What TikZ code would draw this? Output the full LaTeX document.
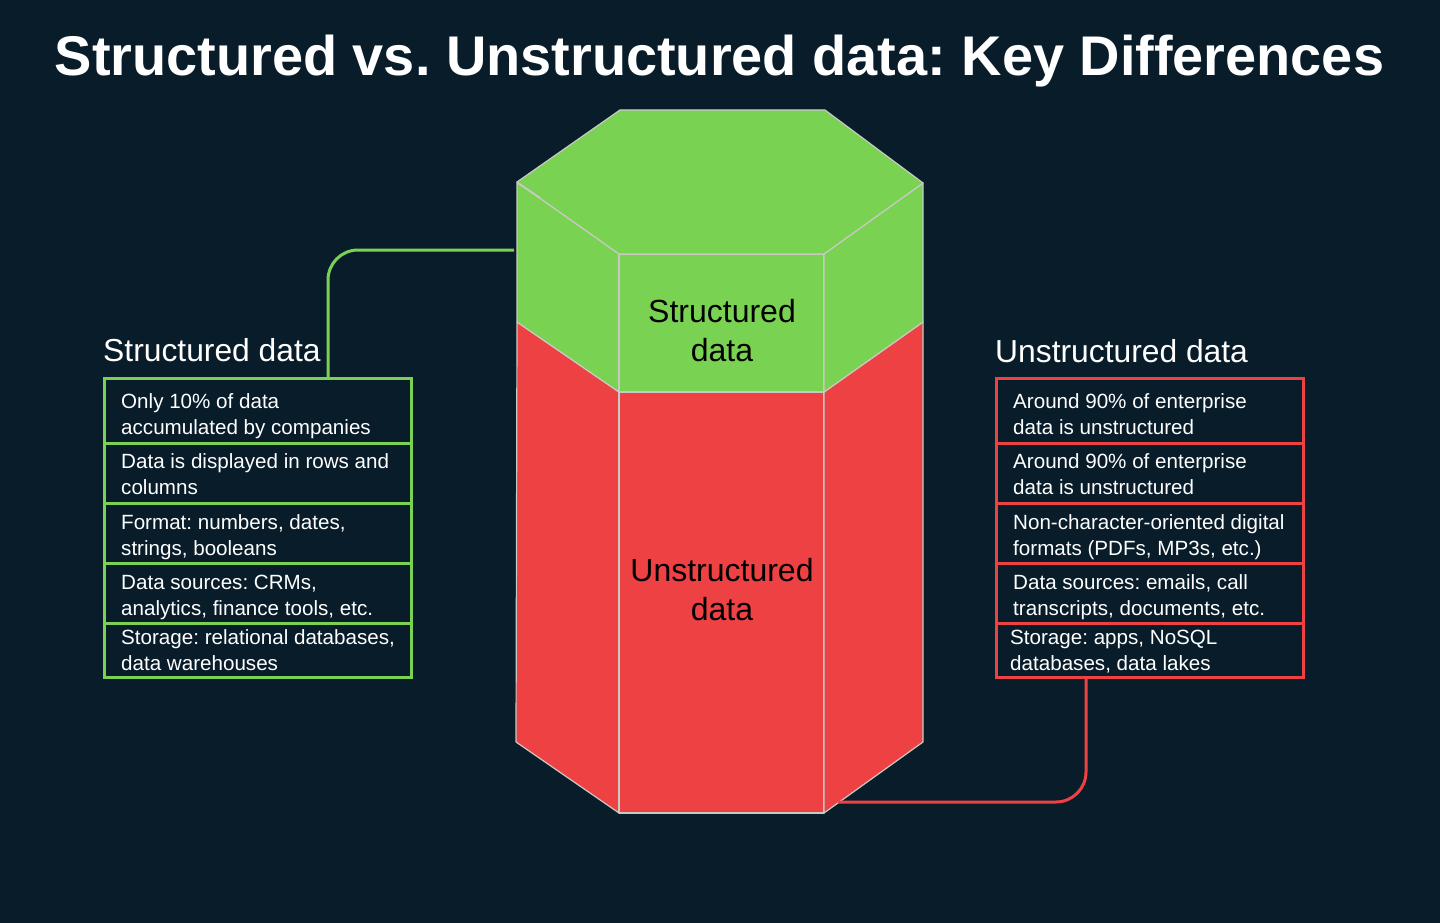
\documentclass[tikz,border=0pt]{standalone}
\usepackage{fontspec}
\setmainfont{Liberation Sans}
\definecolor{bgdark}{HTML}{081C29}
\definecolor{hexgreen}{HTML}{7AD252}
\definecolor{hexred}{HTML}{EE4144}
\definecolor{hexline}{HTML}{C9C9C4}
\tikzset{
  facered/.style={fill=hexred,draw=hexline,line width=1.2pt,line join=round},
  facegreen/.style={fill=hexgreen,draw=hexline,line width=1.2pt,line join=round},
  rowgreen/.style={draw=hexgreen,line width=3pt,minimum width=307pt,inner sep=0pt,outer sep=0pt,anchor=north west},
  rowred/.style={draw=hexred,line width=3pt,minimum width=307pt,inner sep=0pt,outer sep=0pt,anchor=north west},
  rowtext/.style={text=white,anchor=base west,align=left,inner sep=0pt,font=\fontsize{20.6}{26}\selectfont\frenchspacing},
  heading/.style={text=white,anchor=base west,inner sep=0pt,font=\fontsize{31.8}{36}\selectfont},
  hexlabel/.style={text=black,anchor=base,align=center,inner sep=0pt,font=\fontsize{32}{39}\selectfont},
}
\begin{document}
\begin{tikzpicture}[x=1pt,y=-1pt]
\fill[bgdark] (0,0) rectangle (1440,923);
\useasboundingbox (0,0) rectangle (1440,923);
\node (title) [text=white,anchor=base,inner sep=0pt,font=\fontsize{55.9}{70}\bfseries\frenchspacing] at (719.5,76) {Structured vs. Unstructured data: Key Differences};

% red part of the prism
\draw[facered] (517,322) -- (619,392) -- (619,813) -- (516,742) -- cycle;
\draw[facered] (619,392) -- (824,392) -- (824,813) -- (619,813) -- cycle;
\draw[facered] (824,392) -- (923,322) -- (923,742) -- (824,813) -- cycle;
% green part of the prism
\draw[facegreen] (517,182) -- (619,254) -- (619,392) -- (517,322) -- cycle;
\draw[facegreen] (619,254) -- (824,254) -- (824,392) -- (619,392) -- cycle;
\draw[facegreen] (824,254) -- (923,183) -- (923,322) -- (824,392) -- cycle;
\draw[facegreen] (517,182) -- (620,110) -- (825,110) -- (923,183) -- (824,254) -- (619,254) -- cycle;
\draw[hexline,line width=1.8pt] (518,183) -- (540,198);
\node (labelS) [hexlabel] at (722,361) {Structured\\data};
\node (labelU) [hexlabel] at (722,620) {Unstructured\\data};

% left table
\node (headS) [heading] at (103,361) {Structured data};
\node (s1) [rowgreen,minimum height=65pt] at (104.5,378.5) {};
\node (s2) [rowgreen,minimum height=60pt] at (104.5,443.5) {};
\node (s3) [rowgreen,minimum height=60pt] at (104.5,503.5) {};
\node (s4) [rowgreen,minimum height=60pt] at (104.5,563.5) {};
\node (s5) [rowgreen,minimum height=53.5pt] at (104.5,623.5) {};
\node (ts1) [rowtext] at (121,434) {Only 10\% of data\\accumulated by companies};
\node (ts2) [rowtext] at (121,494) {Data is displayed in rows and\\columns};
\node (ts3) [rowtext] at (121,555) {Format: numbers, dates,\\strings, booleans};
\node (ts4) [rowtext] at (121,615) {Data sources: CRMs,\\analytics, finance tools, etc.};
\node (ts5) [rowtext] at (121,670) {Storage: relational databases,\\data warehouses};

% right table
\node (headU) [heading] at (995,362) {Unstructured data};
\node (u1) [rowred,minimum height=65pt] at (996.5,378.5) {};
\node (u2) [rowred,minimum height=60pt] at (996.5,443.5) {};
\node (u3) [rowred,minimum height=60pt] at (996.5,503.5) {};
\node (u4) [rowred,minimum height=60pt] at (996.5,563.5) {};
\node (u5) [rowred,minimum height=53.5pt] at (996.5,623.5) {};
\node (tu1) [rowtext] at (1013,434) {Around 90\% of enterprise\\data is unstructured};
\node (tu2) [rowtext] at (1013,494) {Around 90\% of enterprise\\data is unstructured};
\node (tu3) [rowtext] at (1013,555) {Non-character-oriented digital\\formats (PDFs, MP3s, etc.)};
\node (tu4) [rowtext] at (1013,615) {Data sources: emails, call\\transcripts, documents, etc.};
\node (tu5) [rowtext] at (1010,670) {Storage: apps, NoSQL\\databases, data lakes};

% connectors
\coordinate (sideS) at (514,250);
\coordinate (sideU) at (838,802);
\draw[hexgreen,line width=3pt,rounded corners=30pt] (sideS) -| ([xshift=70pt]s1.north);
\draw[hexred,line width=3pt,rounded corners=30pt] ([xshift=-64pt]u5.south) |- (sideU);
\end{tikzpicture}
\end{document}
